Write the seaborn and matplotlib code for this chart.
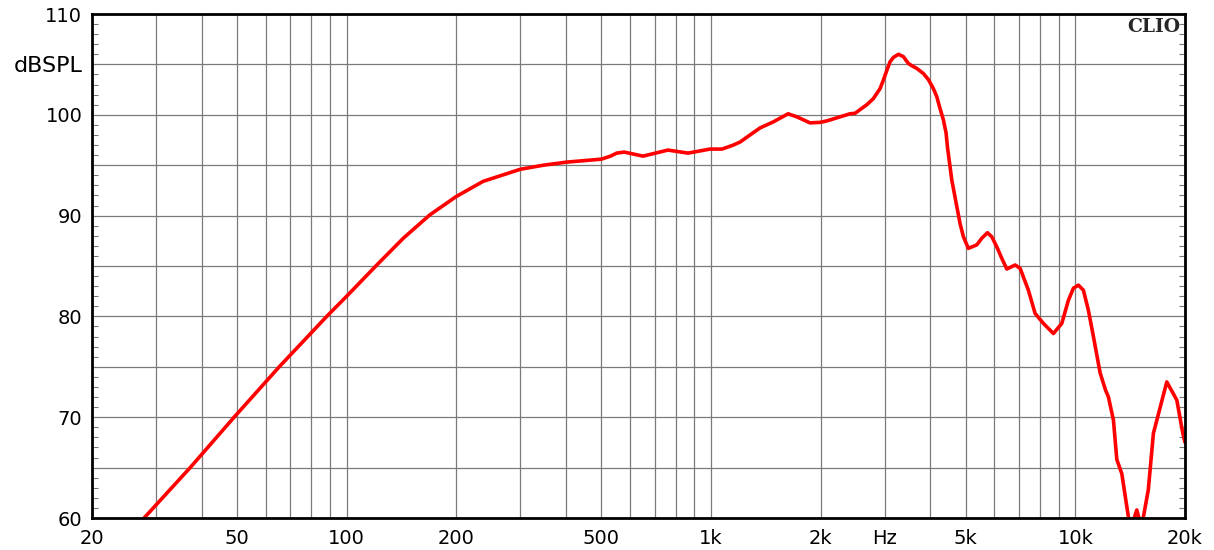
import numpy as np
import pandas as pd
import matplotlib
matplotlib.use("Agg")
import matplotlib.pyplot as plt
import seaborn as sns
from matplotlib.ticker import FixedLocator, NullLocator, MultipleLocator

# Frequency response (Hz, dB SPL)
freq_hz = [27.8, 37.2, 49.1, 65.3, 88.7, 100, 121, 143, 169, 200, 237, 300, 347,
           400, 500, 530, 551, 578, 651, 762, 865, 994, 1072, 1152, 1202, 1280,
           1364, 1483, 1628, 1720, 1870, 1993, 2082, 2262, 2408, 2486, 2677,
           2790, 2911, 2973, 3038, 3102, 3169, 3271, 3373, 3480, 3558, 3672,
           3827, 3950, 4077, 4166, 4254, 4344, 4418, 4457, 4582, 4827, 4930,
           5086, 5366, 5536, 5738, 5898, 6088, 6283, 6485, 6836, 7054, 7204,
           7433, 7754, 8175, 8707, 9180, 9572, 9880, 10198, 10523, 10862,
           11212, 11696, 12100, 12328, 12724, 12998, 13414, 13986, 14300,
           14748, 15100, 15376, 15860, 16380, 17826, 18990, 19726, 20000]
spl_db = [60.0, 65.0, 70.0, 75.0, 80.1, 82.0, 85.1, 87.75, 90.06, 91.9, 93.4,
          94.6, 95.0, 95.3, 95.6, 95.9, 96.2, 96.3, 95.9, 96.5, 96.2, 96.6, 96.6,
          97.0, 97.3, 98.0, 98.7, 99.3, 100.1, 99.8, 99.2, 99.25, 99.4, 99.8,
          100.1, 100.15, 101.0, 101.6, 102.6, 103.45, 104.4, 105.27, 105.7,
          106.0, 105.77, 105.1, 104.87, 104.6, 104.1, 103.5, 102.6, 101.8,
          100.6, 99.5, 98.2, 96.8, 93.5, 89.2, 87.9, 86.75, 87.1, 87.75, 88.3,
          87.9, 86.9, 85.76, 84.7, 85.1, 84.77, 83.9, 82.6, 80.3, 79.3, 78.3,
          79.3, 81.6, 82.8, 83.1, 82.6, 80.6, 78.0, 74.4, 72.7, 72.0, 69.7,
          65.8, 64.4, 60.1, 59.3, 60.8, 59.4, 60.1, 62.8, 68.4, 73.5, 71.7,
          68.4, 67.5]

x_tick_values = [20, 30, 40, 50, 60, 70, 80, 90, 100, 200, 300, 400, 500, 600, 700,
                 800, 900, 1000, 2000, 3000, 4000, 5000, 6000, 7000, 8000, 9000,
                 10000, 20000]
x_tick_labels = {20: "20", 50: "50", 100: "100", 200: "200", 500: "500",
                 1000: "1k", 2000: "2k", 3000: "Hz", 5000: "5k", 10000: "10k",
                 20000: "20k"}
y_tick_values = [60, 65, 70, 75, 80, 85, 90, 95, 100, 105, 110]
y_tick_labels = {60: "60", 70: "70", 80: "80", 90: "90", 100: "100",
                 105: "dBSPL", 110: "110"}

df = pd.DataFrame({"freq": freq_hz, "spl": spl_db})

sns.set_style("white")
plt.rcParams["font.family"] = ["DejaVu Sans"]

fig = plt.figure(figsize=(12.14, 5.5), dpi=100)
ax = fig.add_axes([92 / 1214, 1 - 518 / 550, (1185 - 92) / 1214, (518 - 14) / 550])

sns.lineplot(data=df, x="freq", y="spl", ax=ax, color="#ff0000", linewidth=2.6,
             sort=False, zorder=3)

ax.set_xscale("log")
ax.set_xlim(20, 20000)
ax.set_ylim(60, 110)

ax.xaxis.set_major_locator(FixedLocator(x_tick_values))
ax.xaxis.set_minor_locator(NullLocator())
ax.set_xticklabels([x_tick_labels.get(v, "") for v in x_tick_values])
ax.yaxis.set_major_locator(FixedLocator(y_tick_values))
ax.set_yticklabels([y_tick_labels.get(v, "") for v in y_tick_values])
ax.yaxis.set_minor_locator(MultipleLocator(1))

ax.tick_params(axis="x", which="major", length=0, pad=8, labelsize=14, colors="black")
ax.tick_params(axis="y", which="major", length=0, pad=7, labelsize=14, colors="black")
ax.tick_params(axis="y", which="minor", direction="in", length=4, width=0.8,
               color="#777777", left=True, right=True)
for lbl in ax.get_yticklabels():
    if lbl.get_text() == "dBSPL":
        lbl.set_fontsize(16)

ax.grid(True, which="major", color="#7a7a7a", linewidth=0.9)
ax.set_xlabel("")
ax.set_ylabel("")

for s in ax.spines.values():
    s.set_visible(True)
    s.set_color("black")
    s.set_linewidth(2.0)
    s.set_zorder(4)

ax.text(0.996, 0.992, "CLIO", transform=ax.transAxes, ha="right", va="top",
        fontsize=13.5, fontweight="bold", family="DejaVu Serif", zorder=5)

fig.savefig("out.png", dpi=100)
